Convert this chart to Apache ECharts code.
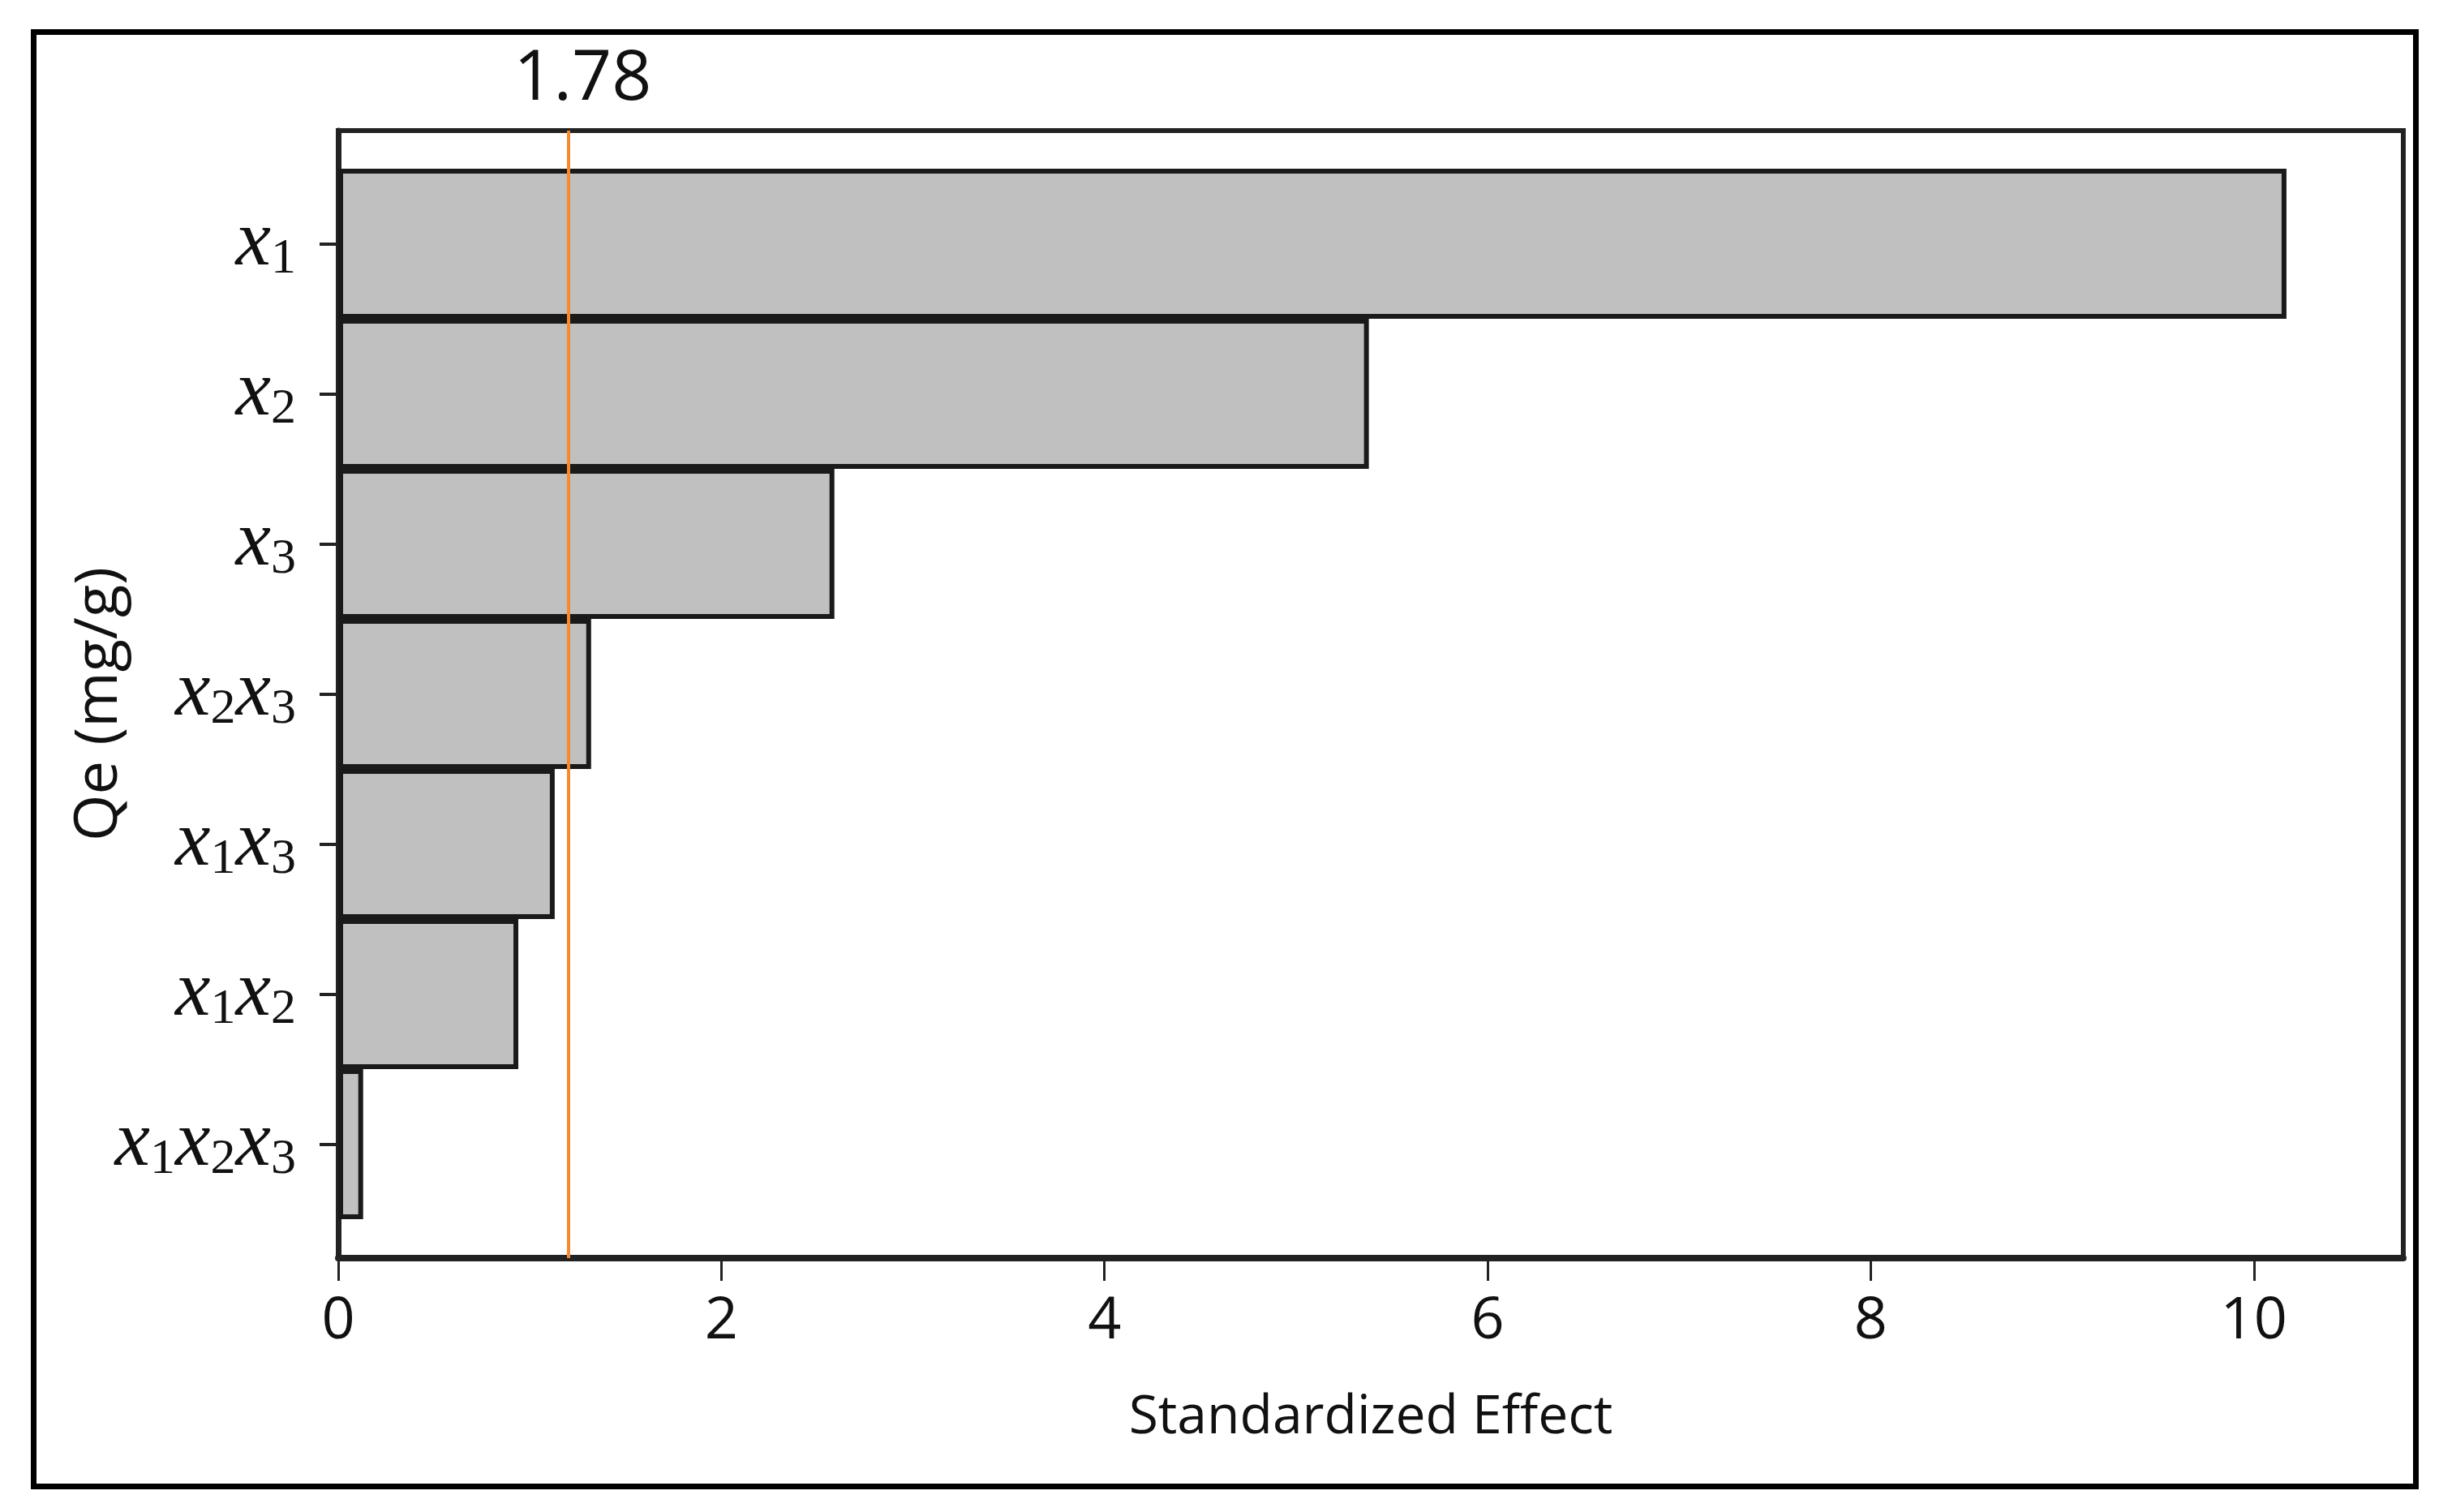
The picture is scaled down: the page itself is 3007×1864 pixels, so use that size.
<!DOCTYPE html>
<html>
<head>
<meta charset="utf-8">
<style>
  html, body { margin: 0; padding: 0; background: #ffffff; }
  #chart { width: 3007px; height: 1864px; }
</style>
<script src="https://cdn.jsdelivr.net/npm/echarts@6/dist/echarts.min.js"></script>
</head>
<body>
<div id="chart"></div>
<script>
// ---- data ----
const categories = ['x1', 'x2', 'x3', 'x2x3', 'x1x3', 'x1x2', 'x1x2x3'];
const effects = [10.17, 5.38, 2.59, 1.32, 1.13, 0.94, 0.13];
const xTicks = [0, 2, 4, 6, 8, 10];
const xMin = 0;
const xMax = 10.78;
const referenceLinePos = 1.2;
const referenceLineLabel = '1.78';
const xAxisTitle = 'Standardized Effect';
const yAxisTitle = 'Qe (mg/g)';

const chart = echarts.init(document.getElementById('chart'), null, { renderer: 'canvas' });

function mathLabel(name) {
  return name.replace(/x(\d)/g, '{x|x}{s|$1}');
}

const textFont = 'Open Sans';

const option = {
  backgroundColor: '#ffffff',
  animation: false,
  graphic: [{
    type: 'rect',
    silent: true,
    shape: { x: 41.5, y: 39.5, width: 2937, height: 1793 },
    style: { fill: 'none', stroke: '#000000', lineWidth: 7 }
  }],
  grid: [
    { left: 417, right: 44, top: 208, bottom: 361, containLabel: false },
    { left: 417, right: 44, top: 161, bottom: 313, containLabel: false,
      show: true, borderColor: '#222222', borderWidth: 6, backgroundColor: 'transparent' }
  ],
  xAxis: [
    { gridIndex: 0, type: 'value', min: xMin, max: xMax, show: false },
    { gridIndex: 1, type: 'value', min: xMin, max: xMax, interval: 2,
      axisLine: { show: true, lineStyle: { color: '#222222', width: 8 } },
      axisTick: { show: true, length: 28, customValues: xTicks, lineStyle: { color: '#222222', width: 3 } },
      axisLabel: { show: true, customValues: xTicks, margin: 42, color: '#111111', fontSize: 72, fontFamily: textFont },
      splitLine: { show: false },
      name: xAxisTitle, nameLocation: 'middle', nameGap: 164,
      nameTextStyle: { color: '#111111', fontSize: 66, fontFamily: textFont }
    }
  ],
  yAxis: [
    { gridIndex: 0, type: 'category', data: categories, inverse: true,
      axisLine: { show: false },
      axisTick: { show: true, alignWithLabel: true, length: 23, lineStyle: { color: '#222222', width: 4 } },
      axisLabel: {
        show: true, margin: 52, align: 'right',
        formatter: function (v) { return mathLabel(v); },
        rich: {
          x: { fontFamily: 'Liberation Serif', fontStyle: 'italic', fontSize: 98, color: '#111111', lineHeight: 104 },
          s: { fontFamily: 'Liberation Serif', fontSize: 62, color: '#111111', padding: [38, 0, 0, 0] }
        }
      },
      splitLine: { show: false }
    },
    { gridIndex: 1, type: 'value', min: 0, max: 1,
      axisLine: { show: true, lineStyle: { color: '#222222', width: 7 } },
      axisTick: { show: false }, axisLabel: { show: false }, splitLine: { show: false },
      name: yAxisTitle, nameLocation: 'middle', nameRotate: 90, nameGap: 257,
      nameTextStyle: { color: '#111111', fontSize: 74, fontFamily: textFont, padding: [0, 24, 0, 0] }
    }
  ],
  series: [
    { type: 'bar', xAxisIndex: 0, yAxisIndex: 0, data: effects,
      barCategoryGap: '0%',
      itemStyle: { color: '#c0c0c0', borderColor: '#1a1a1a', borderWidth: 6 },
      z: 3
    },
    { type: 'scatter', xAxisIndex: 1, yAxisIndex: 1, data: [], z: 2,
      markLine: {
        silent: true, symbol: ['none', 'none'], animation: false,
        lineStyle: { color: '#f5892e', width: 4, type: 'solid' },
        label: {
          show: true, position: 'end', distance: 20,
          formatter: referenceLineLabel,
          color: '#111111', fontSize: 86, fontFamily: textFont,
          padding: [0, 0, 0, 36]
        },
        data: [{ xAxis: referenceLinePos }]
      }
    }
  ]
};

chart.setOption(option);
</script>
</body>
</html>
